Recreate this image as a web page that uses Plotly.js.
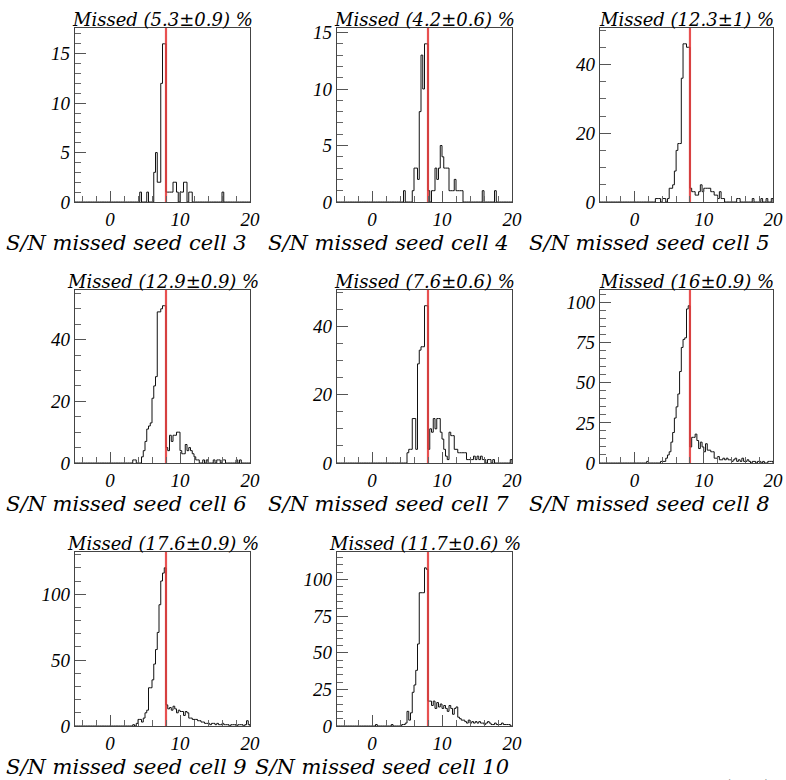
<!DOCTYPE html>
<html>
<head>
<meta charset="utf-8">
<script src="https://cdn.plot.ly/plotly-3.0.1.min.js"></script>
<style>
  html, body { margin: 0; padding: 0; background: #ffffff; }
  #chart { width: 786px; height: 780px; }
</style>
</head>
<body>
<div id="chart"></div>
<script>
// ---------------- data ----------------
const xMin = -5;
const xMax = 20;
const binWidth = 0.25;
const seedCut = 8;

const cellNames = ['3', '4', '5', '6', '7', '8', '9', '10'];
const missedTexts = [
  'Missed (5.3\u00b10.9) %', 'Missed (4.2\u00b10.6) %', 'Missed (12.3\u00b11) %',
  'Missed (12.9\u00b10.9) %', 'Missed (7.6\u00b10.6) %', 'Missed (16\u00b10.9) %',
  'Missed (17.6\u00b10.9) %', 'Missed (11.7\u00b10.6) %'
];

// counts per 0.25-wide bin, starting at the given lower bin edge
const cell3Start = 4.25;
const cell3Counts = [1,0,0,0,1,0,0,0,3,5,2,2,12,16,16,1,1,1,1,2,2,1,0,1,1,2,2,0,1,1,0,
  0,0,0,0,0,0,0,0,0,0,0,0,0,0,0,0,1];

const cell4Start = 4.5;
const cell4Counts = [1,0,0,0,0,1,3,3,2,8,13,10,14,14,1,0,1,1,3,2,3,5,4,3,3,3,1,1,1,2,1,1,1,1,
  0,0,0,0,0,0,0,0,0,0,0,1,0,0,0,0,0,0,1];

const cell5Start = 3.0;
const cell5Counts = [1,1,1,0,1,1,0,1,4,4,5,9,15,17,17,36,46,46,45,45,
  4,3,3,2,2,3,5,3,4,4,4,4,3,3,2,2,1,3,1,1,
  0,0,0,0,0,0,0,1,1,0,0,0,0,0,0,0,1,0,0,0,0,1,0,0,1,0,0,1];

const cell6Start = 3.25;
const cell6Counts = [1,1,0,0,0,2,4,7,11,12,13,21,25,28,49,49,50,51,51,
  5,4,9,7,9,9,10,10,4,3,3,6,4,5,4,3,2,1,1,0,0,1,0,1,0,0,0,1,0,1,1,0,1,1,0,0,0,0,0,0,1,0,1];

const cell7Start = 5.0;
const cell7Counts = [3,4,4,13,13,4,29,33,34,34,46,46,
  4,10,9,13,10,13,13,9,7,4,2,1,9,8,8,4,4,3,3,3,3,3,1,1,1,1,2,1,2,1,2,1,1,0,1,1,0,1,
  0,0,0,0,0,0,0,0,0,1];

const cell8Start = 1.75;
const cell8Counts = [1,0,0,0,0,0,0,0,1,1,1,3,5,7,13,19,28,35,43,57,72,77,78,96,98,
  10,16,16,18,14,9,13,10,7,12,8,8,7,7,3,3,4,2,2,3,2,3,2,2,1,2,3,1,2,1,3,1,1,2,1,0,1,1,0,1,1,0,1,0,0,1,1,1];

const cell9Start = 3.25;
const cell9Counts = [1,0,2,5,5,3,6,10,12,29,29,35,47,58,71,92,110,116,120,
  16,13,14,12,15,13,10,12,11,11,8,11,10,6,6,5,5,5,4,4,3,3,2,2,2,1,2,2,1,2,1,1,2,1,1,1,0,1,1,1,0,1,1,1,0,1,4,1];

const cell10Start = 0.5;
const cell10Counts = [1,0,0,0,0,0,0,0,0,1,0,0,0,0,0,1,1,2,10,4,9,23,28,38,56,91,91,91,108,107,
  17,17,14,17,12,16,13,15,12,14,12,10,14,12,8,12,13,6,5,4,4,3,2,4,2,3,2,3,2,3,2,2,1,2,3,2,1,1,2,1,1,1,2,1,1,1,1,0];

const cellStarts = [cell3Start, cell4Start, cell5Start, cell6Start, cell7Start, cell8Start, cell9Start, cell10Start];
const cellCounts = [cell3Counts, cell4Counts, cell5Counts, cell6Counts, cell7Counts, cell8Counts, cell9Counts, cell10Counts];

// y tick spacing per panel (major, minor)
const yMajor = [5, 5, 20, 20, 20, 25, 50, 25];
const yMinor = [1, 1, 5, 5, 5, 5, 10, 5];
const xTickVals = [0, 10, 20];

// ---------------- layout geometry (pixels) ----------------
const W = 786, H = 780;
const cols = [[75, 250], [337, 512], [600, 773]];
const rows = [[28, 202], [290, 463], [552, 726]];

const traces = [];
const layout = {
  width: W, height: H,
  margin: { l: 0, r: 0, t: 0, b: 0 },
  paper_bgcolor: '#ffffff',
  plot_bgcolor: '#ffffff',
  showlegend: false,
  font: { family: 'Liberation Serif', size: 19, color: '#000000', style: 'italic' },
  annotations: []
};

function buildSteps(start, counts) {
  const n = Math.round((xMax - xMin) / binWidth);
  const full = new Array(n).fill(0);
  const off = Math.round((start - xMin) / binWidth);
  counts.forEach((c, i) => { if (off + i < n) full[off + i] = c; });
  const xs = [], ys = [];
  for (let i = 0; i <= n; i++) {
    xs.push(xMin + i * binWidth);
    ys.push(i < n ? full[i] : full[n - 1]);
  }
  xs.push(xMax); ys.push(0);
  return { xs, ys, peak: Math.max(...full) };
}

for (let i = 0; i < cellNames.length; i++) {
  const r = Math.floor(i / 3), c = i % 3;
  const [x0, x1] = cols[c];
  const [y0, y1] = rows[r];
  const ax = i === 0 ? '' : String(i + 1);
  const st = buildSteps(cellStarts[i], cellCounts[i]);
  const yTop = st.peak * 1.1;

  traces.push({
    type: 'scatter', mode: 'lines',
    x: st.xs, y: st.ys,
    xaxis: 'x' + ax, yaxis: 'y' + ax,
    line: { shape: 'hv', color: '#111111', width: 1 },
    hoverinfo: 'skip'
  });
  traces.push({
    type: 'scatter', mode: 'lines',
    x: [seedCut, seedCut], y: [0, yTop],
    xaxis: 'x' + ax, yaxis: 'y' + ax,
    line: { color: 'rgba(228,50,50,0.85)', width: 2.2 },
    hoverinfo: 'skip'
  });

  layout['xaxis' + ax] = {
    domain: [x0 / W, x1 / W],
    anchor: 'y' + ax,
    range: [xMin, xMax],
    showgrid: false, zeroline: false,
    showline: true, mirror: true, linecolor: '#444444', linewidth: 1.3,
    ticks: 'inside', ticklen: 11, tickwidth: 1, tickcolor: '#555555',
    tickmode: 'array',
    tickvals: xTickVals, ticktext: xTickVals.map(String),
    minor: { ticks: 'inside', dtick: 2, tick0: 0, ticklen: 6, tickcolor: '#666666', tickwidth: 1 },
    tickfont: { family: 'Liberation Serif', size: 19, color: '#000000', style: 'italic' }
  };
  layout['yaxis' + ax] = {
    domain: [1 - y1 / H, 1 - y0 / H],
    anchor: 'x' + ax,
    range: [0, yTop],
    showgrid: false, zeroline: false,
    showline: true, mirror: true, linecolor: '#444444', linewidth: 1.3,
    ticks: 'inside', ticklen: 11, tickwidth: 1, tickcolor: '#555555',
    tickmode: 'linear', tick0: 0, dtick: yMajor[i],
    minor: { ticks: 'inside', dtick: yMinor[i], tick0: 0, ticklen: 6, tickcolor: '#666666', tickwidth: 1 },
    tickfont: { family: 'Liberation Serif', size: 19, color: '#000000', style: 'italic' }
  };

  layout.annotations.push({
    xref: 'paper', yref: 'paper',
    x: (x0 + x1) / 2 / W, y: 1 - (y0 + 4) / H,
    xanchor: 'center', yanchor: 'bottom',
    text: missedTexts[i], showarrow: false,
    font: { family: 'DejaVu Serif', size: 18, color: '#000000', style: 'italic' }
  });
  layout.annotations.push({
    xref: 'paper', yref: 'paper',
    x: (x1 - 1) / W, y: 1 - (y1 + 27) / H,
    xanchor: 'right', yanchor: 'top',
    text: 'S/N missed seed cell ' + cellNames[i], showarrow: false,
    font: { family: 'DejaVu Serif', size: 21, color: '#000000', style: 'italic' }
  });
}

layout.annotations.push({
  xref: 'paper', yref: 'paper',
  x: 606 / W, y: 1 - 774 / H,
  xanchor: 'left', yanchor: 'top',
  text: 'I.V.Martin (Liv)', showarrow: false,
  font: { family: 'DejaVu Serif', size: 21, color: '#000000', style: 'italic' }
});

Plotly.newPlot('chart', traces, layout, { staticPlot: true, displayModeBar: false });
</script>
</body>
</html>
